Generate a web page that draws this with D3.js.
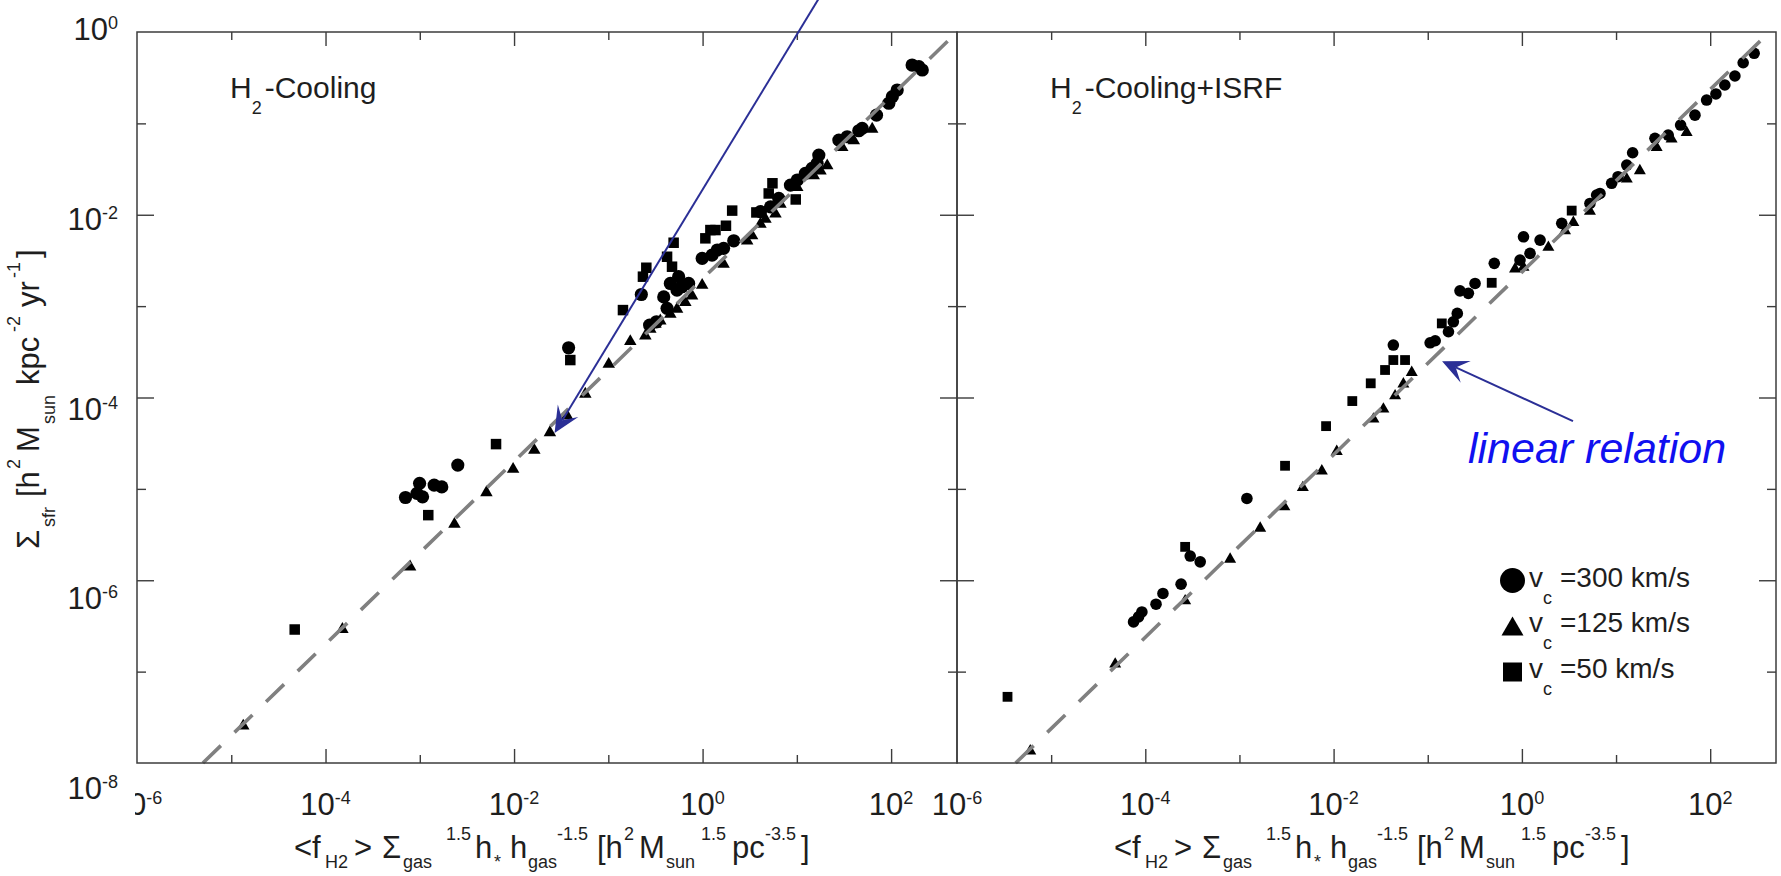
<!DOCTYPE html>
<html>
<head>
<meta charset="utf-8">
<script src="https://cdn.jsdelivr.net/npm/d3@7"></script>
<style>
  body { margin: 0; background: #fff; }
  svg { display: block; font-family: "Liberation Sans", Arial, sans-serif; }
</style>
</head>
<body>
<div id="chart"></div>
<script>
// ---- data (x = <f_H2> Sigma_gas^1.5 h* h_gas^-1.5, y = Sigma_sfr)
var leftCircles = [
  [7.05e-4, 8.05e-6], [9.33e-4, 8.91e-6], [9.95e-4, 1.15e-5], [1.07e-3, 8.18e-6],
  [1.42e-3, 1.10e-5], [1.71e-3, 1.05e-5], [2.53e-3, 1.82e-5], [3.79e-2, 3.50e-4],
  [0.224, 1.34e-3], [0.274, 6.2e-4], [0.324, 6.74e-4], [0.387, 1.26e-3],
  [0.42, 9.45e-4], [0.455, 1.77e-3], [0.557, 2.1e-3], [0.535, 1.5e-3],
  [0.711, 1.77e-3], [0.605, 1.63e-3], [0.99, 3.33e-3], [1.26, 3.62e-3],
  [1.43, 4.11e-3], [1.67, 4.29e-3], [2.14, 5.19e-3], [4.11, 1.08e-2],
  [5.25, 1.22e-2], [6.43, 1.51e-2], [8.55, 2.11e-2], [10.1, 2.40e-2],
  [12.3, 2.84e-2], [14.5, 3.22e-2], [16.4, 3.65e-2], [17.1, 4.5e-2],
  [27.9, 6.57e-2], [34.2, 7.14e-2], [45.4, 8.3e-2], [49.3, 8.8e-2],
  [70, 0.123], [94.6, 0.166], [103, 0.196], [116, 0.232],
  [167, 0.435], [197, 0.417], [214, 0.384]
];
var leftTriangles = [
  [1.34e-5, 2.59e-8], [1.51e-4, 2.96e-7], [7.89e-4, 1.43e-6], [2.33e-3, 4.19e-6],
  [5.09e-3, 9.29e-6], [9.77e-3, 1.67e-5], [1.64e-2, 2.70e-5], [2.40e-2, 4.21e-5],
  [3.65e-2, 6.42e-5], [5.70e-2, 1.11e-4], [0.101, 2.36e-4], [0.171, 4.18e-4],
  [0.247, 4.82e-4], [0.279, 5.7e-4], [0.316, 6.47e-4], [0.356, 7.03e-4],
  [0.455, 8.33e-4], [0.536, 9.45e-4], [0.656, 1.12e-3], [0.773, 1.32e-3],
  [0.99, 1.73e-3], [1.67, 2.94e-3], [2.97, 5.28e-3], [3.35, 6.0e-3],
  [4.11, 8.05e-3], [4.64, 9.14e-3], [5.93, 1.04e-2], [6.70, 1.33e-2],
  [10.1, 2.03e-2], [15.1, 2.72e-2], [17.8, 3.08e-2], [21.0, 3.5e-2],
  [30.3, 5.55e-2], [40.2, 6.57e-2], [63.0, 8.83e-2]
];
var leftSquares = [
  [1.23e-3, 5.16e-6], [4.71e-5, 2.89e-7], [6.44e-3, 3.09e-5], [3.95e-2, 2.57e-4],
  [0.143, 9.05e-4], [0.233, 2.1e-3], [0.253, 2.63e-3], [0.42, 3.47e-3],
  [0.493, 4.94e-3], [0.474, 2.7e-3], [1.07, 5.52e-3], [1.21, 6.8e-3],
  [1.37, 6.8e-3], [1.77, 7.58e-3], [2.06, 1.11e-2], [3.72, 1.06e-2],
  [5.03, 1.71e-2], [5.51, 2.21e-2], [9.73, 1.47e-2]
];

var rightCircles = [
  [7.50e-5, 3.5e-7], [8.47e-5, 3.97e-7], [9.2e-5, 4.5e-7], [1.30e-4, 5.47e-7],
  [1.54e-4, 7.17e-7], [2.40e-4, 9.06e-7], [3.0e-4, 1.84e-6], [3.83e-4, 1.59e-6],
  [1.20e-3, 7.86e-6], [4.31e-2, 3.75e-4], [0.106, 3.97e-4], [0.120, 4.18e-4],
  [0.166, 5.24e-4], [0.187, 6.74e-4], [0.206, 8.33e-4], [0.220, 1.47e-3],
  [0.270, 1.38e-3], [0.318, 1.77e-3], [0.509, 2.94e-3], [0.955, 3.19e-3],
  [1.04, 5.74e-3], [1.22, 3.78e-3], [1.56, 5.28e-3], [2.65, 8.05e-3],
  [5.28, 1.33e-2], [6.22, 1.64e-2], [6.75, 1.71e-2], [8.98, 2.21e-2],
  [10.5, 2.61e-2], [13.0, 3.5e-2], [15.0, 4.77e-2], [25.9, 6.86e-2],
  [35.8, 7.45e-2], [48.5, 9.59e-2], [68.9, 0.123], [91.6, 0.180],
  [115, 0.21], [143, 0.263], [183, 0.33], [224, 0.461], [293, 0.585]
];
var rightTriangles = [
  [6.0e-6, 1.38e-8], [4.79e-5, 1.23e-7], [2.65e-4, 6.05e-7], [7.96e-4, 1.73e-6],
  [1.66e-3, 3.78e-6], [3.0e-3, 6.47e-6], [4.71e-3, 1.05e-5], [7.5e-3, 1.6e-5],
  [1.08e-2, 2.61e-5], [2.65e-2, 5.9e-5], [3.38e-2, 7.6e-5], [4.5e-2, 1.06e-4],
  [5.51e-2, 1.43e-4], [6.76e-2, 1.91e-4], [0.845, 2.59e-3], [1.04, 2.7e-3],
  [1.91, 4.47e-3], [2.87, 6.8e-3], [3.52, 8.38e-3], [5.28, 1.11e-2],
  [13.0, 2.5e-2], [17.9, 3.08e-2], [27.0, 5.55e-2], [38.9, 6.86e-2],
  [56.2, 8.1e-2]
];
var rightSquares = [
  [3.44e-6, 5.3e-8], [2.65e-4, 2.32e-6], [3.05e-3, 1.79e-5], [8.32e-3, 4.86e-5],
  [1.58e-2, 9.14e-5], [2.48e-2, 1.43e-4], [3.52e-2, 2.0e-4], [4.31e-2, 2.57e-4],
  [5.74e-2, 2.57e-4], [0.141, 6.47e-4], [0.478, 1.8e-3], [3.38, 1.11e-2]
];

// linear relation (dashed), end points
var fitLeft = [[5.0e-6, 1.0e-8], [427, 0.85]];
var fitRight = [[4.2e-6, 1.0e-8], [354, 0.83]];

// annotation arrows [tail, tip] in data units
var arrowLeft = [[18.0, 2.54], [2.69e-2, 4.09e-5]];
var arrowRight = [[3.49, 5.52e-5], [0.142, 2.50e-4]];

var panelLabels = ["-Cooling", "-Cooling+ISRF"];
var legendLabels = ["=300 km/s", "=125 km/s", "=50 km/s"];
var xMajor = [1e-4, 1e-2, 1, 100], xMinor = [1e-5, 1e-3, 1e-1, 10];
var yMajor = [1e-2, 1e-4, 1e-6], yMinor = [1e-1, 1e-3, 1e-5, 1e-7];
var xLabelExp = [-6, -4, -2, 0, 2];
var yLabelExp = [0, -2, -4, -6, -8];

// ---- layout
var W = 1781, H = 876;
var yTop = 32, yBot = 763;
var frameCol = "#3c3c3c", textCol = "#1e1e1e";

var svg = d3.select("#chart").append("svg").attr("width", W).attr("height", H);

var y = d3.scaleLog().domain([1e-8, 1]).range([yBot, yTop]);

var panels = [
  {x0: 137, x1: 957, circles: leftCircles, tris: leftTriangles, squares: leftSquares,
   fit: fitLeft, arrow: arrowLeft, label: panelLabels[0], r: 6.6, sq: 10.5, tri: 12.5},
  {x0: 957, x1: 1776, circles: rightCircles, tris: rightTriangles, squares: rightSquares,
   fit: fitRight, arrow: arrowRight, label: panelLabels[1], r: 5.8, sq: 9.8, tri: 12}
];

svg.append("defs").append("clipPath").attr("id", "lclip")
  .append("rect").attr("x", 135).attr("y", 0).attr("width", W).attr("height", H);

function supText(g, x, yy, base, exp, anchor, fs) {
  var t = g.append("text").attr("x", x).attr("y", yy).attr("text-anchor", anchor)
    .attr("font-size", fs).attr("fill", textCol);
  t.append("tspan").text(base);
  t.append("tspan").attr("dy", -11).attr("font-size", 18).text(exp);
  return t;
}

function triPath(cx, cy, s) {
  var h = s * 0.866;
  return "M" + cx + "," + (cy - h * 0.6) + "L" + (cx + s / 2) + "," + (cy + h * 0.4) +
    "L" + (cx - s / 2) + "," + (cy + h * 0.4) + "Z";
}

// x title pieces: [text, offset, kind]
var xTitle = [["<f", 0, "m"], ["H2", 31, "b"], [">", 60, "m"], ["\u03A3", 88, "m"],
  ["gas", 109, "b"], ["1.5", 152, "p"], ["h", 181, "m"], ["*", 200, "b"],
  ["h", 216, "m"], ["gas", 234, "b"], ["-1.5", 263, "p"], ["[h", 303, "m"],
  ["2", 330, "p"], ["M", 345, "m"], ["sun", 372, "b"], ["1.5", 407, "p"],
  ["pc", 438, "m"], ["-3.5", 471, "p"], ["]", 507, "m"]];

var xLabY = 815;

panels.forEach(function(p, i) {
  var x = d3.scaleLog().domain([1e-6, 500]).range([p.x0, p.x1]);
  var g = svg.append("g");

  // ticks through d3 axes
  var mk = function(axis, vals, len, tr) {
    var a = g.append("g").attr("transform", tr)
      .call(axis.tickValues(vals).tickSize(-len).tickFormat(""));
    a.select(".domain").remove();
    a.selectAll("line").attr("stroke", frameCol).attr("stroke-width", 1.4);
  };
  mk(d3.axisBottom(x), xMajor, 14, "translate(0," + yBot + ")");
  mk(d3.axisBottom(x), xMinor, 8, "translate(0," + yBot + ")");
  mk(d3.axisTop(x), xMajor, 14, "translate(0," + yTop + ")");
  mk(d3.axisTop(x), xMinor, 8, "translate(0," + yTop + ")");
  mk(d3.axisLeft(y), yMajor, 17, "translate(" + p.x0 + ",0)");
  mk(d3.axisLeft(y), yMinor, 9, "translate(" + p.x0 + ",0)");
  mk(d3.axisRight(y), yMajor, 17, "translate(" + p.x1 + ",0)");
  mk(d3.axisRight(y), yMinor, 9, "translate(" + p.x1 + ",0)");

  // x tick labels
  var lg = g.append("g");
  xLabelExp.forEach(function(e) {
    var t = supText(lg, x(Math.pow(10, e)), xLabY, "10", String(e), "middle", 31);
    if (i === 0 && e === -6) {
      // in the figure the leading "1" of this label is hidden behind the left edge
      var bx = t.node().getBBox().x;
      var one = lg.append("text").attr("font-size", 31).text("1");
      var w1 = one.node().getComputedTextLength();
      one.remove();
      t.remove();
      supText(lg, bx + w1, xLabY, "0", String(e), "start", 31).attr("clip-path", "url(#lclip)");
    }
  });

  // points
  var pts = g.append("g").attr("fill", "#000");
  pts.selectAll("circle").data(p.circles).enter().append("circle")
    .attr("cx", function(d) { return x(d[0]); })
    .attr("cy", function(d) { return y(d[1]); })
    .attr("r", p.r);
  pts.selectAll("rect").data(p.squares).enter().append("rect")
    .attr("x", function(d) { return x(d[0]) - p.sq / 2; })
    .attr("y", function(d) { return y(d[1]) - p.sq / 2; })
    .attr("width", p.sq).attr("height", p.sq);
  pts.selectAll("path").data(p.tris).enter().append("path")
    .attr("d", function(d) { return triPath(x(d[0]), y(d[1]), p.tri); });

  // dashed linear relation
  g.append("path").datum(p.fit)
    .attr("d", d3.line().x(function(d) { return x(d[0]); }).y(function(d) { return y(d[1]); }))
    .attr("fill", "none").attr("stroke", "#808080").attr("stroke-width", 3.6)
    .attr("stroke-dasharray", "25,19");

  // frame
  g.append("rect").attr("x", p.x0).attr("y", yTop).attr("width", p.x1 - p.x0)
    .attr("height", yBot - yTop).attr("fill", "none")
    .attr("stroke", frameCol).attr("stroke-width", 1.5);

  // panel label H2-...
  var pl = g.append("text").attr("x", p.x0 + 93).attr("y", 98)
    .attr("font-size", 30).attr("fill", textCol);
  pl.append("tspan").text("H");
  pl.append("tspan").attr("dy", 16).attr("font-size", 18).text("2");
  pl.append("tspan").attr("dy", -16).attr("dx", 3).text(p.label);

  // x axis title
  var start = p.x0 + 157;
  xTitle.forEach(function(t) {
    var yy = t[2] === "m" ? 858 : (t[2] === "b" ? 868 : 840);
    g.append("text").attr("x", start + t[1]).attr("y", yy)
      .attr("font-size", t[2] === "m" ? 31 : 18).attr("fill", textCol).text(t[0]);
  });

  // blue annotation arrow
  var a0 = [x(p.arrow[0][0]), y(p.arrow[0][1])], a1 = [x(p.arrow[1][0]), y(p.arrow[1][1])];
  var dx = a1[0] - a0[0], dy = a1[1] - a0[1], len = Math.sqrt(dx * dx + dy * dy);
  var ux = dx / len, uy = dy / len, nx = -uy, ny = ux;
  var L = 26, w = 12, N = 15;
  var notch = [a1[0] - ux * N, a1[1] - uy * N];
  g.append("line").attr("x1", a0[0]).attr("y1", a0[1]).attr("x2", notch[0]).attr("y2", notch[1])
    .attr("stroke", "#2b2f96").attr("stroke-width", 2);
  g.append("path").attr("fill", "#2b2f96").attr("d",
    "M" + a1[0] + "," + a1[1] +
    "L" + (a1[0] - ux * L + nx * w) + "," + (a1[1] - uy * L + ny * w) +
    "L" + notch[0] + "," + notch[1] +
    "L" + (a1[0] - ux * L - nx * w) + "," + (a1[1] - uy * L - ny * w) + "Z");
});

// y tick labels (left panel)
var yl = svg.append("g");
yLabelExp.forEach(function(e) {
  supText(yl, 118, y(Math.pow(10, e)) + 8 - e * 3.5, "10", String(e), "end", 31);
});

// y axis title (rotated)
var yTitle = [["\u03A3", 0, "m"], ["sfr", 22, "b"], ["[h", 52, "m"], ["2", 80, "p"],
  ["M", 97, "m"], ["sun", 125, "b"], ["kpc", 164, "m"], ["-2", 217, "p"],
  ["yr", 242, "m"], ["-1", 271, "p"], ["]", 291, "m"]];
var yt = svg.append("g").attr("transform", "translate(39,549) rotate(-90)");
yTitle.forEach(function(t) {
  var yy = t[2] === "m" ? 0 : (t[2] === "b" ? 16 : -19);
  yt.append("text").attr("x", t[1]).attr("y", yy)
    .attr("font-size", t[2] === "m" ? 31 : 18).attr("fill", textCol).text(t[0]);
});

// annotation text
svg.append("text").attr("x", 1468).attr("y", 463).attr("font-size", 43)
  .attr("font-style", "italic").attr("fill", "#1010f0").text("linear relation");

// legend
var lgd = svg.append("g");
var rowY = [580.5, 626, 672];
legendLabels.forEach(function(lab, k) {
  var cy = rowY[k], cx = 1512.5;
  if (k === 0) lgd.append("circle").attr("cx", cx).attr("cy", cy).attr("r", 12.5);
  if (k === 1) lgd.append("path").attr("d", triPath(cx, cy + 2, 22));
  if (k === 2) lgd.append("rect").attr("x", cx - 9.5).attr("y", cy - 9.5).attr("width", 19).attr("height", 19);
  var t = lgd.append("text").attr("x", 1529).attr("y", cy + 6).attr("font-size", 28).attr("fill", textCol);
  t.append("tspan").text("v");
  t.append("tspan").attr("dy", 17).attr("font-size", 18).text("c");
  t.append("tspan").attr("x", 1560).attr("dy", -17).text(lab);
});
</script>
</body>
</html>
